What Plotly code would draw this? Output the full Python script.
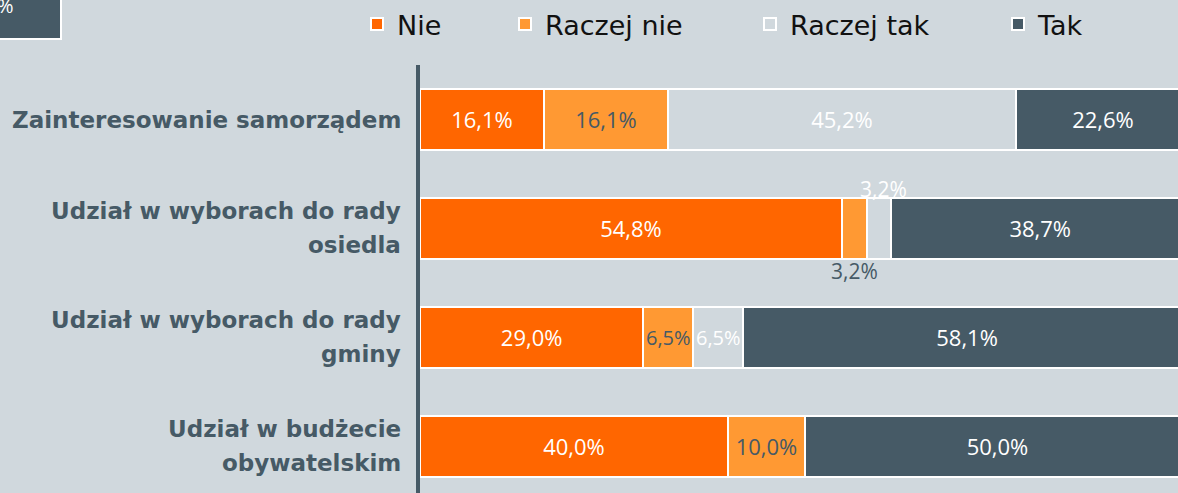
import plotly.graph_objects as go

categories = [
    "Zainteresowanie samorządem",
    "Udział w wyborach do rady osiedla",
    "Udział w wyborach do rady gminy",
    "Udział w budżecie obywatelskim",
]
label_lines = [
    ["Zainteresowanie samorządem"],
    ["Udział w wyborach do rady", "osiedla"],
    ["Udział w wyborach do rady", "gminy"],
    ["Udział w budżecie", "obywatelskim"],
]
series_names = ["Nie", "Raczej nie", "Raczej tak", "Tak"]
nie = [16.1, 54.8, 29.0, 40.0]
raczej_nie = [16.1, 3.2, 6.5, 10.0]
raczej_tak = [45.2, 3.2, 6.5, 0.0]
tak = [22.6, 38.7, 58.1, 50.0]
series_values = [nie, raczej_nie, raczej_tak, tak]

BG = "#d0d8dd"
DARK = "#465a66"
colors = ["#ff6600", "#ff9933", BG, DARK]
text_colors = ["white", DARK, "white", "white"]

W, H = 1178, 493
L, T = 420, 63
PW, PH = W - L, H - T
PX_PER_PCT = 7.70
PX_PER_CAT = 109.5


def fmt(v):
    return f"{v:.1f}".replace(".", ",") + "%"


fig = go.Figure()
annotations = []
for k, (name, vals) in enumerate(zip(series_names, series_values)):
    texts = []
    for i, v in enumerate(vals):
        if v >= 8:
            texts.append(fmt(v))
        else:
            texts.append("")
            if 5 <= v < 8:
                start = sum(series_values[j][i] for j in range(k))
                annotations.append(dict(x=start + v / 2, y=categories[i], xref="x", yref="y",
                                        text=fmt(v), showarrow=False, xanchor="center",
                                        yanchor="middle",
                                        font=dict(family="Open Sans", size=20, color=text_colors[k])))
    fig.add_trace(go.Bar(
        name=name, y=categories, x=vals, orientation="h",
        marker=dict(color=colors[k], line=dict(color="white", width=2)),
        text=texts, textposition="inside", insidetextanchor="middle",
        textangle=0, constraintext="none",
        textfont=dict(family="Open Sans", size=22, color=text_colors[k]),
        legend="legend" if k == 0 else f"legend{k + 1}",
        width=0.56,
    ))

# small segment labels outside the bars
for i, cat in enumerate(categories):
    start = nie[i]
    v = raczej_nie[i]
    if 0 < v < 5:
        annotations.append(dict(x=start + v / 2, y=cat, xref="x", yref="y", text=fmt(v),
                                showarrow=False, yshift=-43, xanchor="center", yanchor="middle",
                                font=dict(family="Open Sans", size=21, color=DARK)))
    start2 = nie[i] + raczej_nie[i]
    v2 = raczej_tak[i]
    if 0 < v2 < 5:
        annotations.append(dict(x=start2 + v2 / 2, y=cat, xref="x", yref="y", text=fmt(v2),
                                showarrow=False, yshift=39, xshift=5, xanchor="center", yanchor="middle",
                                font=dict(family="Open Sans", size=21, color="white")))

# category labels
for cat, lines in zip(categories, label_lines):
    n = len(lines)
    for j, line in enumerate(lines):
        shift = 0 if n == 1 else (17 if j == 0 else -17)
        annotations.append(dict(x=0, y=cat, xref="paper", yref="y", text=line,
                                xanchor="right", yanchor="middle", xshift=-17, yshift=shift,
                                showarrow=False,
                                font=dict(family="DejaVu Sans", size=23, color=DARK, weight="bold")))

# stray box label at top-left (cut off by the page edge, as in the reference)
annotations.append(dict(x=(6 - L) / PW, y=(H - 3) / PH, xref="paper", yref="paper", text="%",
                        xanchor="center", yanchor="middle", showarrow=False,
                        font=dict(family="Open Sans", size=20, color="white")))

legend_text_px = [397, 545, 790, 1038]
leg_common = dict(orientation="h", yanchor="middle", xanchor="left", bgcolor="rgba(0,0,0,0)",
                  font=dict(family="DejaVu Sans", size=27, color="#111111"))
legends = {}
for k, px in enumerate(legend_text_px):
    key = "legend" if k == 0 else f"legend{k + 1}"
    legends[key] = dict(leg_common, x=(px - 40 - L) / PW, y=(H - 22) / PH)

fig.update_layout(
    width=W, height=H,
    margin=dict(l=L, r=0, t=T, b=0, pad=0),
    paper_bgcolor=BG, plot_bgcolor=BG,
    barmode="stack",
    showlegend=True,
    annotations=annotations,
    shapes=[dict(type="rect", xref="paper", yref="paper",
                 x0=(-6 - L) / PW, x1=(61 - L) / PW, y0=(H - 37) / PH, y1=(H + 6) / PH,
                 fillcolor=DARK, line=dict(color="white", width=2))],
    xaxis=dict(range=[0, PW / PX_PER_PCT], visible=False, fixedrange=True),
    yaxis=dict(categoryorder="array", categoryarray=categories,
               range=[-0.5 + PH / PX_PER_CAT, -0.5],
               showticklabels=False, ticks="", showgrid=False, zeroline=False,
               showline=True, linecolor=DARK, linewidth=4),
    **legends,
)

fig.write_html("out.html", config={"displayModeBar": False},
               post_script="document.body.style.margin='0';")
